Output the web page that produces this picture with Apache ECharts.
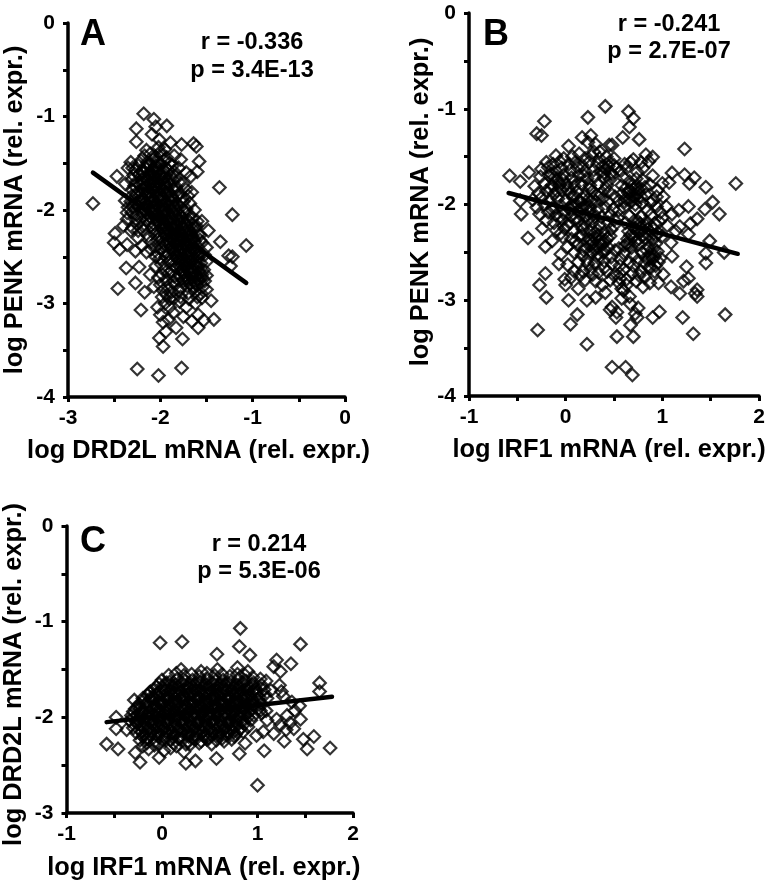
<!DOCTYPE html>
<html><head><meta charset="utf-8">
<script src="https://cdn.jsdelivr.net/npm/echarts@6/dist/echarts.min.js"></script>
<style>html,body{margin:0;padding:0;background:#fff}#c{width:776px;height:883px}</style>
</head><body><div id="c"></div>
<script>
const panelAOuter=[[-2.18,-.97],[-2.07,-1.03],[-1.93,-1.1],[-2.05,-1.11],[-2.26,-1.13],[-2.09,-1.19],[-2.26,-1.27],[-2.01,-1.25],[-1.89,-1.28],[-1.77,-1.3],[-1.64,-1.29],[-1.61,-1.32],[-1.58,-1.48],[-1.6,-1.59],[-1.78,-1.46],[-1.36,-1.76],[-1.22,-2.05],[-1.07,-2.38],[-1.35,-2.34],[-1.26,-2.49],[-1.22,-2.5],[-1.24,-2.6],[-2.73,-1.93],[-2.47,-1.64],[-2.32,-1.49],[-2.35,-1.55],[-2.49,-2.25],[-2.5,-2.35],[-2.44,-2.42],[-2.36,-2.37],[-2.27,-2.44],[-2.37,-2.62],[-2.23,-2.61],[-2.27,-2.78],[-2.46,-2.84],[-2.17,-2.88],[-2.11,-2.69],[-2.07,-2.82],[-2.21,-3.07],[-1.45,-2.97],[-1.42,-3.17],[-1.53,-3.18],[-1.59,-3.26],[-1.59,-3.12],[-1.66,-3.19],[-1.75,-3.14],[-1.83,-3.26],[-1.76,-3.38],[-1.91,-3.17],[-2,-3.12],[-1.95,-3],[-1.97,-3.46],[-2.01,-3.37],[-1.94,-3.3],[-1.86,-3.1],[-2.25,-3.7],[-2.02,-3.77],[-1.77,-3.69],[-1.62,-3],[-1.79,-2.98],[-1.48,-2.22],[-1.55,-2.12],[-1.57,-2.27],[-1.5,-2.4],[-1.66,-1.81],[-1.67,-1.64],[-2.35,-1.97],[-2.4,-2.17],[-2.36,-2.1],[-2.15,-2.45],[-2.3,-2.19],[-2.03,-3.04],[-1.9,-3.04],[-1.97,-3.2],[-1.72,-3.04],[-1.55,-2.94],[-2.15,-1.36],[-2.02,-1.33],[-2,-1.38],[-1.95,-1.35],[-1.85,-1.42],[-1.8,-1.55],[-1.72,-1.6],[-2.3,-1.55],[-2.38,-1.72],[-1.75,-1.72],[-1.7,-1.85],[-2.24,-2.3],[-2.2,-2.38],[-2.32,-2.22],[-2.05,-2.6],[-2.02,-2.72],[-2,-2.8],[-1.97,-2.86],[-2.05,-2.5],[-2.1,-2.42],[-1.93,-2.91],[-1.9,-2.95],[-1.78,-2.93],[-1.5,-2.85],[-1.5,-2.7],[-1.5,-2.55],[-1.52,-2.48],[-1.55,-2.35],[-1.6,-2.12],[-1.63,-2],[-1.68,-1.93],[-1.72,-1.78],[-2.38,-1.9],[-2.36,-2.03],[-2.24,-2.22]];
const panelACore=[[-2.17,-1.42],[-2.11,-1.4],[-2.05,-1.43],[-1.99,-1.41],[-1.93,-1.44],[-2.21,-1.47],[-2.14,-1.49],[-2.08,-1.46],[-2.03,-1.48],[-1.96,-1.47],[-1.9,-1.5],[-2.24,-1.52],[-2.17,-1.54],[-2.12,-1.51],[-2.05,-1.53],[-2,-1.52],[-1.94,-1.55],[-1.87,-1.53],[-2.27,-1.57],[-2.2,-1.59],[-2.15,-1.56],[-2.09,-1.58],[-2.03,-1.57],[-1.97,-1.6],[-1.92,-1.57],[-1.85,-1.59],[-2.29,-1.63],[-2.23,-1.62],[-2.17,-1.65],[-2.12,-1.62],[-2.06,-1.64],[-2.01,-1.62],[-1.95,-1.65],[-1.89,-1.63],[-1.83,-1.64],[-2.31,-1.68],[-2.26,-1.7],[-2.2,-1.67],[-2.14,-1.69],[-2.09,-1.68],[-2.03,-1.7],[-1.98,-1.67],[-1.92,-1.7],[-1.86,-1.68],[-1.8,-1.7],[-2.28,-1.74],[-2.22,-1.73],[-2.16,-1.75],[-2.11,-1.72],[-2.05,-1.75],[-2,-1.73],[-1.94,-1.76],[-1.89,-1.73],[-1.83,-1.75],[-2.3,-1.79],[-2.25,-1.81],[-2.19,-1.78],[-2.13,-1.8],[-2.08,-1.78],[-2.02,-1.81],[-1.97,-1.79],[-1.91,-1.81],[-1.85,-1.79],[-1.79,-1.82],[-2.31,-1.85],[-2.26,-1.84],[-2.2,-1.87],[-2.15,-1.84],[-2.09,-1.86],[-2.04,-1.85],[-1.98,-1.87],[-1.92,-1.84],[-1.87,-1.87],[-1.81,-1.85],[-1.76,-1.87],[-2.32,-1.91],[-2.27,-1.93],[-2.21,-1.9],[-2.16,-1.92],[-2.1,-1.91],[-2.05,-1.93],[-1.99,-1.9],[-1.93,-1.92],[-1.88,-1.91],[-1.82,-1.93],[-1.75,-1.91],[-2.3,-1.97],[-2.24,-1.96],[-2.18,-1.98],[-2.13,-1.96],[-2.07,-1.99],[-2.01,-1.97],[-1.96,-1.99],[-1.9,-1.96],[-1.84,-1.98],[-1.78,-1.97],[-1.72,-1.99],[-2.31,-2.03],[-2.26,-2.05],[-2.2,-2.02],[-2.14,-2.04],[-2.09,-2.03],[-2.03,-2.05],[-1.97,-2.02],[-1.92,-2.05],[-1.86,-2.03],[-1.8,-2.04],[-1.74,-2.02],[-1.68,-2.05],[-2.27,-2.1],[-2.21,-2.09],[-2.15,-2.11],[-2.1,-2.08],[-2.04,-2.1],[-1.99,-2.09],[-1.93,-2.11],[-1.87,-2.09],[-1.81,-2.1],[-1.76,-2.08],[-1.7,-2.11],[-1.65,-2.09],[-2.25,-2.15],[-2.19,-2.17],[-2.12,-2.14],[-2.06,-2.16],[-2,-2.15],[-1.95,-2.17],[-1.89,-2.14],[-1.83,-2.16],[-1.78,-2.15],[-1.72,-2.17],[-1.66,-2.15],[-1.61,-2.17],[-2.18,-2.22],[-2.09,-2.2],[-2.03,-2.23],[-1.97,-2.21],[-1.91,-2.22],[-1.86,-2.2],[-1.8,-2.23],[-1.74,-2.21],[-1.68,-2.22],[-1.62,-2.2],[-2.13,-2.28],[-2.06,-2.26],[-2,-2.28],[-1.94,-2.27],[-1.88,-2.29],[-1.83,-2.26],[-1.77,-2.28],[-1.71,-2.27],[-1.65,-2.29],[-1.59,-2.26],[-2.1,-2.34],[-2.03,-2.32],[-1.97,-2.35],[-1.91,-2.33],[-1.85,-2.34],[-1.8,-2.32],[-1.74,-2.35],[-1.68,-2.33],[-1.63,-2.34],[-1.57,-2.32],[-2.05,-2.39],[-2,-2.41],[-1.94,-2.38],[-1.88,-2.4],[-1.82,-2.39],[-1.77,-2.41],[-1.71,-2.38],[-1.65,-2.4],[-1.6,-2.39],[-2.03,-2.46],[-1.96,-2.44],[-1.91,-2.47],[-1.85,-2.45],[-1.79,-2.46],[-1.74,-2.44],[-1.68,-2.47],[-1.62,-2.45],[-1.57,-2.46],[-2.01,-2.52],[-1.94,-2.5],[-1.88,-2.53],[-1.82,-2.51],[-1.76,-2.52],[-1.71,-2.5],[-1.65,-2.53],[-1.59,-2.51],[-1.99,-2.58],[-1.91,-2.56],[-1.85,-2.59],[-1.79,-2.57],[-1.74,-2.58],[-1.68,-2.56],[-1.62,-2.59],[-1.56,-2.57],[-1.95,-2.63],[-1.88,-2.65],[-1.82,-2.62],[-1.76,-2.64],[-1.7,-2.63],[-1.65,-2.65],[-1.59,-2.62],[-1.53,-2.64],[-1.98,-2.69],[-1.91,-2.68],[-1.85,-2.71],[-1.79,-2.69],[-1.73,-2.7],[-1.67,-2.68],[-1.61,-2.71],[-1.55,-2.69],[-1.94,-2.75],[-1.86,-2.77],[-1.81,-2.74],[-1.75,-2.76],[-1.69,-2.75],[-1.63,-2.77],[-1.57,-2.74],[-1.52,-2.76],[-1.92,-2.82],[-1.84,-2.8],[-1.78,-2.83],[-1.71,-2.81],[-1.65,-2.82],[-1.6,-2.8],[-1.54,-2.82],[-1.88,-2.88],[-1.8,-2.87],[-1.7,-2.89],[-1.62,-2.87],[-1.56,-2.89],[-1.85,-2.94],[-1.69,-2.95],[-1.98,-2.93],[-1.6,-2.93]];
const panelAExtra=[[-2.13,-1.52],[-2.07,-1.55],[-2.01,-1.5],[-2.18,-1.6],[-2.1,-1.61],[-2.04,-1.6],[-1.98,-1.63],[-2.15,-1.66],[-2.08,-1.7],[-2.02,-1.66],[-1.96,-1.71],[-2.19,-1.72],[-2.13,-1.75],[-2.07,-1.73],[-2.01,-1.77],[-1.95,-1.74],[-2.2,-1.82],[-2.14,-1.83],[-2.06,-1.81],[-2,-1.84],[-1.94,-1.82],[-1.88,-1.85],[-2.18,-1.89],[-2.12,-1.88],[-2.07,-1.9],[-2.02,-1.88],[-1.96,-1.93],[-1.9,-1.89],[-2.23,-1.94],[-2.15,-1.95],[-2.09,-1.96],[-2.03,-1.94],[-1.98,-1.96],[-1.86,-1.95],[-2.17,-2.01],[-2.11,-2],[-2.05,-2.01],[-1.99,-2],[-1.94,-2.02],[-1.88,-2],[-1.82,-2.01],[-2.12,-2.07],[-2.07,-2.06],[-2.01,-2.07],[-1.95,-2.06],[-1.89,-2.08],[-1.84,-2.06],[-1.78,-2.07],[-2.03,-2.13],[-1.97,-2.14],[-1.91,-2.12],[-1.85,-2.13],[-1.8,-2.12],[-1.74,-2.14],[-1.98,-2.19],[-1.93,-2.2],[-1.88,-2.18],[-1.82,-2.19],[-1.76,-2.18],[-1.7,-2.2],[-1.95,-2.25],[-1.9,-2.24],[-1.85,-2.25],[-1.79,-2.25],[-1.73,-2.24],[-1.67,-2.26],[-1.93,-2.31],[-1.87,-2.32],[-1.82,-2.3],[-1.76,-2.31],[-1.7,-2.3],[-1.64,-2.31],[-1.9,-2.37],[-1.84,-2.36],[-1.79,-2.37],[-1.73,-2.36],[-1.67,-2.37],[-1.87,-2.42],[-1.81,-2.43],[-1.75,-2.42],[-1.69,-2.43],[-1.63,-2.42],[-1.83,-2.48],[-1.77,-2.49],[-1.71,-2.47],[-1.65,-2.49],[-1.6,-2.48],[-1.8,-2.54],[-1.73,-2.55],[-1.67,-2.54],[-1.61,-2.55],[-1.78,-2.61],[-1.72,-2.6],[-1.66,-2.61],[-1.6,-2.6],[-1.75,-2.67],[-1.69,-2.66],[-1.63,-2.67],[-1.58,-2.66],[-1.72,-2.73],[-1.65,-2.73],[-1.6,-2.74],[-1.55,-2.72],[-1.68,-2.79],[-1.62,-2.79]];
const lineA=[[-2.73,-1.6],[-1.07,-2.78]];

const panelBOuter=[[.41,-.975],[.65,-1.03],[.7,-1.1],[.23,-1.09],[-.22,-1.13],[.66,-1.19],[-.3,-1.26],[-.25,-1.28],[.59,-1.3],[.76,-1.32],[.17,-1.3],[.26,-1.28],[.23,-1.35],[.31,-1.37],[.45,-1.38],[.48,-1.38],[.03,-1.39],[1.23,-1.42],[.9,-1.505],[.83,-1.48],[-.58,-1.7],[-.47,-1.76],[-.38,-1.665],[1.76,-1.78],[1.45,-1.82],[1.1,-1.67],[1.23,-1.69],[1.33,-1.72],[1.28,-1.78],[1,-1.78],[1.07,-1.77],[1.01,-1.92],[1.52,-1.975],[1.44,-2.05],[1.59,-2.1],[1.27,-2.02],[1.17,-2.06],[1.36,-2.15],[1.29,-2.2],[1.18,-2.23],[1.27,-2.31],[1.49,-2.38],[1.45,-2.51],[1.64,-2.5],[1.45,-2.61],[1.25,-2.65],[1.27,-2.77],[1.22,-2.8],[1.36,-2.89],[1.34,-2.93],[1.36,-2.96],[1.18,-2.93],[1.09,-2.86],[.96,-2.82],[1.01,-2.73],[1.1,-2.54],[1.09,-2.4],[1.65,-3.15],[1.21,-3.18],[1.32,-3.35],[.97,-3.12],[.9,-3.18],[.7,-3.38],[.53,-3.38],[.67,-3.26],[.74,-3.18],[.75,-3.08],[.52,-3.18],[.48,-3.07],[.53,-3.125],[.67,-3.04],[.22,-3.46],[-.29,-3.31],[.05,-3.25],[.12,-3.15],[.03,-3],[.22,-3],[.31,-2.97],[.41,-2.92],[.13,-2.88],[0,-2.84],[-.01,-2.78],[-.2,-2.97],[-.27,-2.84],[-.21,-2.72],[-.07,-2.62],[.02,-2.63],[-.39,-2.35],[-.46,-2.1],[-.47,-1.96],[.48,-3.7],[.62,-3.7],[.69,-3.78],[-.14,-2.38],[-.21,-2.44],[-.24,-2.25],[-.05,-2.52],[1.04,-2.02],[1.1,-2.1],[1.05,-2.22],[1,-2.14],[1.14,-2.28],[.58,-2.98],[.6,-2.9],[.66,-2.96],[.46,-3.1],[.72,-3.14]];
const panelBCore=[[.14,-1.47],[.35,-1.45],[.5,-1.52],[.7,-1.53],[.78,-1.56],[-.1,-1.49],[-.02,-1.52],[.07,-1.5],[.2,-1.52],[.27,-1.49],[.42,-1.5],[-.2,-1.56],[-.13,-1.58],[-.06,-1.55],[.03,-1.58],[.1,-1.56],[.17,-1.59],[.24,-1.56],[.33,-1.58],[.38,-1.6],[.45,-1.56],[.52,-1.62],[.61,-1.58],[.67,-1.56],[.8,-1.62],[.86,-1.55],[-.25,-1.63],[-.18,-1.61],[-.1,-1.65],[-.04,-1.62],[.05,-1.64],[.12,-1.61],[.2,-1.65],[.29,-1.64],[.36,-1.66],[.42,-1.63],[.47,-1.67],[.57,-1.65],[.63,-1.62],[.74,-1.66],[.9,-1.7],[-.26,-1.71],[-.17,-1.7],[-.09,-1.73],[-.02,-1.69],[.06,-1.72],[.14,-1.7],[.22,-1.73],[.3,-1.71],[.4,-1.72],[.46,-1.74],[.6,-1.72],[.66,-1.76],[.73,-1.73],[.8,-1.75],[.87,-1.79],[-.32,-1.81],[-.22,-1.78],[-.14,-1.8],[-.07,-1.77],[.01,-1.79],[.09,-1.81],[.16,-1.78],[.25,-1.8],[.33,-1.79],[.43,-1.8],[.62,-1.83],[.69,-1.8],[.75,-1.84],[.82,-1.82],[.95,-1.85],[-.28,-1.88],[-.2,-1.86],[-.12,-1.89],[-.04,-1.85],[.04,-1.88],[.12,-1.87],[.2,-1.9],[.28,-1.86],[.36,-1.89],[.45,-1.87],[.51,-1.92],[.58,-1.89],[.65,-1.88],[.7,-1.91],[.76,-1.87],[.83,-1.9],[-.34,-1.95],[-.25,-1.93],[-.16,-1.96],[-.08,-1.94],[0,-1.96],[.08,-1.93],[.15,-1.97],[.23,-1.95],[.31,-1.97],[.38,-1.94],[.44,-1.97],[.55,-1.96],[.62,-1.94],[.68,-1.97],[.74,-1.94],[.79,-1.98],[.9,-1.96],[-.3,-2.03],[-.22,-2],[-.13,-2.03],[-.05,-2.01],[.03,-2.04],[.1,-2.01],[.17,-2.04],[.25,-2.02],[.33,-2.05],[.41,-2.03],[.49,-2.05],[.6,-2.03],[.72,-2.05],[.85,-2.06],[.94,-2.02],[-.27,-2.1],[-.18,-2.08],[-.1,-2.11],[-.02,-2.09],[.06,-2.12],[.14,-2.09],[.21,-2.12],[.29,-2.1],[.37,-2.13],[.46,-2.11],[.54,-2.14],[.66,-2.12],[.78,-2.13],[.88,-2.11],[.98,-2.08],[-.2,-2.17],[-.12,-2.19],[-.03,-2.16],[.04,-2.19],[.13,-2.17],[.2,-2.2],[.28,-2.18],[.35,-2.21],[.44,-2.19],[.5,-2.16],[.62,-2.19],[.71,-2.17],[.77,-2.2],[.84,-2.18],[.92,-2.2],[-.1,-2.27],[-.01,-2.25],[.08,-2.28],[.18,-2.26],[.26,-2.29],[.33,-2.27],[.4,-2.3],[.47,-2.26],[.65,-2.28],[.72,-2.25],[.78,-2.28],[.85,-2.26],[.96,-2.3],[-.03,-2.34],[.06,-2.36],[.14,-2.33],[.24,-2.36],[.3,-2.34],[.36,-2.37],[.43,-2.35],[.64,-2.36],[.7,-2.33],[.76,-2.36],[.83,-2.35],[.9,-2.37],[1,-2.33],[.02,-2.44],[.12,-2.42],[.2,-2.45],[.27,-2.41],[.32,-2.44],[.38,-2.42],[.44,-2.45],[.61,-2.43],[.68,-2.45],[.75,-2.42],[.86,-2.44],[.93,-2.41],[.09,-2.5],[.17,-2.53],[.26,-2.49],[.33,-2.52],[.39,-2.5],[.51,-2.48],[.6,-2.51],[.7,-2.53],[.79,-2.5],[.88,-2.52],[.95,-2.49],[.13,-2.6],[.22,-2.58],[.3,-2.61],[.4,-2.59],[.48,-2.62],[.57,-2.57],[.66,-2.6],[.74,-2.59],[.82,-2.61],[.9,-2.57],[.96,-2.6],[.09,-2.7],[.15,-2.74],[.26,-2.68],[.34,-2.71],[.43,-2.7],[.5,-2.74],[.6,-2.68],[.69,-2.72],[.78,-2.7],[.86,-2.66],[.92,-2.7],[.06,-2.76],[.2,-2.79],[.31,-2.8],[.46,-2.79],[.55,-2.82],[.63,-2.78],[.73,-2.8],[.82,-2.76],[.87,-2.82],[.58,-2.88],[.38,-2.84],[.8,-2.86]];
const panelBExtra=[[-.12,-1.72],[-.06,-1.8],[-.16,-1.84],[-.09,-1.86],[.02,-1.84],[.08,-1.9],[.14,-1.96],[.07,-2],[.13,-2.06],[.2,-2.01],[.18,-1.94],[.26,-1.96],[.24,-2.07],[.3,-2.13],[.23,-2.16],[.3,-2.3],[.27,-2.37],[.34,-2.32],[.36,-2.42],[.31,-2.47],[.25,-2.43],[.41,-2.38],[.4,-2.47],[.34,-2.56],[.44,-1.6],[.4,-1.67],[.5,-1.59],[.48,-1.69],[.35,-1.52],[.29,-1.45],[.66,-1.85],[.7,-1.84],[.73,-1.9],[.67,-1.94],[.61,-1.97],[.78,-1.92],[.72,-2],[.74,-1.8],[.78,-2.24],[.83,-2.22],[.74,-2.28],[.8,-2.32],[.86,-2.31],[.75,-2.18],[.7,-2.24],[.67,-2.32],[.63,-2.41],[.66,-2.41],[.72,-2.39],[.92,-2.54],[.86,-2.56],[.84,-2.48],[.93,-2.64],[.88,-2.66],[.83,-2.56],[.98,-2.56],[.91,-2.46],[.56,-2.72],[.63,-2.84],[.56,-2.77],[.18,-2.7],[.23,-2.62],[.19,-2.48],[.05,-2.05],[-.07,-2.14],[-.14,-2.06],[-.15,-1.68],[-.03,-1.74],[.09,-1.76],[.19,-1.7],[.25,-1.84],[.32,-1.9],[.4,-1.85],[.1,-2.15],[.17,-2.22],[.02,-2.22],[-.05,-2.3],[.1,-2.38],[.17,-2.32],[.5,-2.22],[.46,-2.33],[.55,-2.46],[.47,-2.55],[.56,-2.64],[.7,-2.64],[.76,-2.74],[.4,-2.66],[.28,-2.73],[.9,-2.25],[.93,-2.32],[.97,-2.18],[.88,-1.98],[.94,-1.92],[.58,-1.8],[.55,-2.06]];
const lineB=[[-.59,-1.88],[1.78,-2.515]];

const panelCOuter=[[.82,-1.07],[-.02,-1.22],[.21,-1.21],[1.45,-1.235],[.81,-1.26],[.92,-1.35],[.575,-1.34],[1.2,-1.4],[1.35,-1.44],[1.17,-1.47],[1.24,-1.52],[.79,-1.48],[1.65,-1.64],[1.65,-1.73],[-.58,-2.28],[-.46,-2.33],[-.48,-2],[-.48,-2.12],[-.37,-2.13],[-.29,-1.82],[-.13,-1.74],[-.28,-2.37],[-.23,-2.47],[-.03,-2.42],[.02,-2.35],[.25,-2.48],[.35,-2.455],[.23,-2.36],[.57,-2.43],[.81,-2.38],[.87,-2.27],[1.07,-2.35],[1,-2.71],[1.28,-2.25],[1.48,-2.23],[1.59,-2.2],[1.52,-2.33],[1.76,-2.32],[1.45,-2.02],[1.38,-2.12],[1.31,-1.98],[1.39,-1.93],[1.17,-2.17],[1.06,-2.15],[.99,-2.19],[1.1,-2.03],[1.25,-1.73],[1.23,-1.665],[1.09,-1.62],[1.3,-2.13],[1.24,-2.08],[1.34,-2.06],[1.2,-2.02],[1.27,-1.78],[1.14,-1.72],[1.36,-1.84],[1.44,-1.88],[.2,-1.5],[.41,-1.52],[.58,-1.5],[.9,-1.52]];
const panelCCore=[[.07,-1.56],[.15,-1.54],[.23,-1.56],[.31,-1.55],[.39,-1.57],[.47,-1.54],[.55,-1.56],[.63,-1.55],[.71,-1.57],[.79,-1.55],[.87,-1.56],[.95,-1.58],[1.03,-1.6],[0,-1.61],[.08,-1.63],[.16,-1.6],[.24,-1.62],[.32,-1.61],[.4,-1.63],[.48,-1.6],[.56,-1.62],[.64,-1.61],[.72,-1.63],[.8,-1.6],[.88,-1.62],[.96,-1.64],[1.04,-1.66],[-.06,-1.68],[.02,-1.66],[.1,-1.69],[.18,-1.67],[.26,-1.68],[.34,-1.66],[.42,-1.69],[.5,-1.67],[.58,-1.68],[.66,-1.66],[.74,-1.69],[.82,-1.67],[.9,-1.68],[.98,-1.7],[1.07,-1.71],[-.12,-1.73],[-.04,-1.75],[.04,-1.72],[.12,-1.74],[.2,-1.73],[.28,-1.75],[.36,-1.72],[.44,-1.74],[.52,-1.73],[.6,-1.75],[.68,-1.72],[.76,-1.74],[.84,-1.73],[.92,-1.75],[1,-1.73],[1.08,-1.76],[-.2,-1.8],[-.1,-1.78],[-.02,-1.81],[.06,-1.79],[.14,-1.8],[.22,-1.78],[.3,-1.81],[.38,-1.79],[.46,-1.8],[.54,-1.78],[.62,-1.81],[.7,-1.79],[.78,-1.8],[.86,-1.78],[.94,-1.81],[1.02,-1.79],[1.1,-1.8],[-.24,-1.86],[-.15,-1.84],[-.07,-1.87],[.01,-1.85],[.09,-1.86],[.17,-1.84],[.25,-1.87],[.33,-1.85],[.41,-1.86],[.49,-1.84],[.57,-1.87],[.65,-1.85],[.73,-1.86],[.81,-1.84],[.89,-1.87],[.97,-1.85],[1.05,-1.86],[-.28,-1.91],[-.2,-1.93],[-.11,-1.9],[-.03,-1.92],[.05,-1.91],[.13,-1.93],[.21,-1.9],[.29,-1.92],[.37,-1.91],[.45,-1.93],[.53,-1.9],[.61,-1.92],[.69,-1.91],[.77,-1.93],[.85,-1.9],[.93,-1.92],[1.01,-1.91],[1.09,-1.93],[-.32,-1.98],[-.24,-1.96],[-.16,-1.99],[-.08,-1.97],[0,-1.98],[.08,-1.96],[.16,-1.99],[.24,-1.97],[.32,-1.98],[.4,-1.96],[.48,-1.99],[.56,-1.97],[.64,-1.98],[.72,-1.96],[.8,-1.99],[.88,-1.97],[.96,-1.98],[1.04,-1.96],[-.34,-2.03],[-.27,-2.05],[-.19,-2.02],[-.11,-2.04],[-.03,-2.03],[.05,-2.05],[.13,-2.02],[.21,-2.04],[.29,-2.03],[.37,-2.05],[.45,-2.02],[.53,-2.04],[.61,-2.03],[.69,-2.05],[.77,-2.02],[.85,-2.04],[.93,-2.03],[-.3,-2.11],[-.22,-2.09],[-.14,-2.12],[-.06,-2.1],[.02,-2.11],[.1,-2.09],[.18,-2.12],[.26,-2.1],[.34,-2.11],[.42,-2.09],[.5,-2.12],[.58,-2.1],[.66,-2.11],[.74,-2.09],[.82,-2.12],[.9,-2.1],[-.27,-2.16],[-.19,-2.18],[-.11,-2.15],[-.03,-2.17],[.05,-2.16],[.13,-2.18],[.21,-2.15],[.29,-2.17],[.37,-2.16],[.45,-2.18],[.53,-2.15],[.61,-2.17],[.69,-2.16],[.77,-2.18],[.85,-2.15],[-.23,-2.24],[-.15,-2.22],[-.07,-2.25],[.01,-2.23],[.09,-2.24],[.17,-2.22],[.27,-2.25],[.35,-2.23],[.41,-2.25],[.49,-2.22],[.57,-2.24],[.65,-2.25],[.73,-2.23],[-.2,-2.3],[-.14,-2.33],[-.08,-2.29],[.09,-2.32],[.15,-2.3],[.3,-2.28]];
const panelCExtra=[[-.03,-1.65],[.05,-1.64],[.14,-1.66],[.21,-1.64],[.3,-1.65],[.37,-1.64],[.46,-1.66],[.53,-1.64],[.62,-1.65],[.69,-1.64],[.78,-1.66],[.85,-1.64],[.94,-1.66],[-.08,-1.71],[.01,-1.7],[.09,-1.72],[.17,-1.7],[.25,-1.71],[.33,-1.7],[.4,-1.72],[.49,-1.7],[.57,-1.71],[.64,-1.7],[.73,-1.72],[.81,-1.7],[.89,-1.71],[.97,-1.72],[-.15,-1.77],[-.06,-1.76],[.02,-1.78],[.1,-1.76],[.18,-1.77],[.27,-1.76],[.34,-1.78],[.42,-1.76],[.51,-1.77],[.58,-1.76],[.66,-1.78],[.75,-1.76],[.83,-1.77],[.9,-1.78],[.99,-1.77],[-.2,-1.83],[-.11,-1.82],[-.03,-1.84],[.05,-1.82],[.13,-1.83],[.21,-1.82],[.29,-1.84],[.37,-1.82],[.45,-1.83],[.53,-1.82],[.61,-1.84],[.69,-1.82],[.77,-1.83],[.85,-1.82],[.93,-1.84],[1.01,-1.83],[-.25,-1.89],[-.16,-1.88],[-.08,-1.89],[0,-1.88],[.08,-1.89],[.16,-1.88],[.24,-1.89],[.32,-1.88],[.4,-1.89],[.48,-1.88],[.56,-1.89],[.64,-1.88],[.72,-1.89],[.8,-1.88],[.88,-1.89],[.96,-1.88],[-.3,-1.94],[-.21,-1.95],[-.13,-1.94],[-.05,-1.95],[.03,-1.94],[.11,-1.95],[.19,-1.94],[.27,-1.95],[.35,-1.94],[.43,-1.95],[.51,-1.94],[.59,-1.95],[.67,-1.94],[.75,-1.95],[.83,-1.94],[.91,-1.95],[-.3,-2.01],[-.22,-2],[-.14,-2.01],[-.06,-2],[.02,-2.01],[.1,-2],[.18,-2.01],[.26,-2],[.34,-2.01],[.42,-2],[.5,-2.01],[.58,-2],[.66,-2.01],[.74,-2],[.82,-2.01],[.9,-2],[-.26,-2.07],[-.18,-2.06],[-.1,-2.07],[-.02,-2.06],[.06,-2.07],[.14,-2.06],[.22,-2.07],[.3,-2.06],[.38,-2.07],[.46,-2.06],[.54,-2.07],[.62,-2.06],[.7,-2.07],[.78,-2.06],[.86,-2.07],[-.24,-2.13],[-.16,-2.14],[-.08,-2.13],[0,-2.14],[.08,-2.13],[.16,-2.14],[.24,-2.13],[.32,-2.14],[.4,-2.13],[.48,-2.14],[.56,-2.13],[.64,-2.14],[.72,-2.13],[.8,-2.14],[-.2,-2.2],[-.12,-2.19],[-.04,-2.2],[.04,-2.19],[.12,-2.2],[.2,-2.19],[.28,-2.2],[.36,-2.19],[.44,-2.2],[.52,-2.19],[.6,-2.2],[.68,-2.19],[.76,-2.2]];
const panelCDense=[[.11,-1.67],[.28,-1.68],[.44,-1.67],[.6,-1.67],[.76,-1.68],[-.02,-1.73],[.15,-1.74],[.31,-1.73],[.47,-1.74],[.63,-1.73],[.79,-1.74],[.95,-1.73],[-.09,-1.8],[.08,-1.8],[.24,-1.8],[.4,-1.8],[.56,-1.8],[.72,-1.8],[.88,-1.8],[-.17,-1.86],[0,-1.86],[.11,-1.85],[.27,-1.85],[.43,-1.86],[.59,-1.85],[.75,-1.85],[.91,-1.86],[-.23,-1.91],[-.06,-1.92],[.07,-1.92],[.23,-1.92],[.39,-1.92],[.55,-1.91],[.71,-1.92],[.87,-1.92],[1.03,-1.93],[-.26,-1.98],[-.1,-1.98],[.02,-1.97],[.18,-1.98],[.34,-1.97],[.5,-1.98],[.66,-1.97],[.82,-1.98],[-.24,-2.04],[-.08,-2.04],[.07,-2.03],[.23,-2.04],[.39,-2.04],[.55,-2.03],[.71,-2.04],[-.2,-2.1],[-.04,-2.1],[.12,-2.1],[.28,-2.1],[.44,-2.1],[.6,-2.09],[.76,-2.1],[-.21,-2.15],[-.05,-2.16],[.11,-2.16],[.27,-2.16],[.43,-2.15],[.59,-2.16],[.75,-2.15],[-.17,-2.23],[.03,-2.22],[.19,-2.23],[.33,-2.22],[.47,-2.23],[.63,-2.22],[-.16,-2.27],[-.03,-2.28],[.12,-2.27],[.25,-2.28],[.39,-2.27],[.52,-2.28]];
const lineC=[[-.58,-2.05],[1.78,-1.785]];

const xTitles=['log DRD2L mRNA (rel. expr.)','log IRF1 mRNA (rel. expr.)','log IRF1 mRNA (rel. expr.)'];
const yTitles=['log PENK mRNA (rel. expr.)','log PENK mRNA (rel. expr.)','log DRD2L mRNA (rel. expr.)'];
const panelLetters=['A','B','C'];
const rTexts=['r = -0.336','r = -0.241','r = 0.214'];
const pTexts=['p = 3.4E-13','p = 2.7E-07','p = 5.3E-06'];
const xRanges=[[-3,0],[-1,2],[-1,2]];
const yRanges=[[-4,0],[-4,0],[-3,0]];
const grids=[{left:68,top:23,width:277,height:374},{left:469,top:13,width:290,height:383},{left:66,top:526,width:287,height:287}];
const xNameShift=[8,5,6],yNameShift=[0,-2.5,5];
const xNameGap=[41,41.5,42.5],yNameGap=[40.5,35.5,40.5];
const letterPos=[[80,17],[483,17],[80,524]];
const statPos=[[252,56.5],[669,38],[259,558]];

const font='"Liberation Sans",Arial,sans-serif';
const pad=s=>s>0?[0,2*s,0,0]:[0,0,0,-2*s];
const axisCommon=(m,s)=>({
  axisLine:{show:true,onZero:false,lineStyle:{color:'#000',width:3.5}},
  axisTick:{show:true,length:5,lineStyle:{color:'#000',width:3}},
  splitLine:{show:false},minorTick:{show:false},
  axisLabel:{color:'#000',fontFamily:font,fontWeight:'bold',fontSize:21,margin:m,
    formatter:v=>Number.isInteger(v)?String(v):''},
  nameLocation:'middle',
  nameTextStyle:{color:'#000',fontFamily:font,fontWeight:'bold',fontSize:25.4,padding:pad(s)}
});
const xAxis=xRanges.map((r,i)=>Object.assign(axisCommon(11,xNameShift[i]),{type:'value',gridIndex:i,min:r[0],max:r[1],interval:.5,position:'bottom',name:xTitles[i],nameGap:xNameGap[i]}));
const yAxis=yRanges.map((r,i)=>Object.assign(axisCommon(13,yNameShift[i]),{type:'value',gridIndex:i,min:r[0],max:r[1],interval:.5,position:'left',name:yTitles[i],nameGap:yNameGap[i]}));
const sets=[panelAOuter.concat(panelACore,panelAExtra),panelBOuter.concat(panelBCore,panelBExtra),panelCOuter.concat(panelCCore,panelCExtra,panelCDense)];
const lines=[lineA,lineB,lineC];
const series=[];
sets.forEach((d,i)=>{
  series.push({type:'scatter',xAxisIndex:i,yAxisIndex:i,data:d,symbol:'diamond',symbolSize:12.5,progressive:0,large:false,
    itemStyle:{color:'rgba(0,0,0,0)',borderColor:'#000',borderWidth:2.2},silent:true,z:2});
  series.push({type:'line',xAxisIndex:i,yAxisIndex:i,data:lines[i],showSymbol:false,silent:true,z:3,
    lineStyle:{color:'#000',width:4.5,cap:'round'}});
});
const graphic=[];
panelLetters.forEach((t,i)=>{
  graphic.push({type:'text',x:letterPos[i][0],y:letterPos[i][1],style:{text:t,fill:'#000',font:'bold 36px '+font}});
  graphic.push({type:'text',x:statPos[i][0],y:statPos[i][1],style:{text:rTexts[i]+'\n'+pTexts[i],fill:'#000',font:'bold 23.5px '+font,align:'center',verticalAlign:'middle',lineHeight:27.5}});
});
const chart=echarts.init(document.getElementById('c'),null,{renderer:'canvas'});
chart.setOption({animation:false,backgroundColor:'#fff',grid:grids,xAxis,yAxis,series,graphic});
</script></body></html>
